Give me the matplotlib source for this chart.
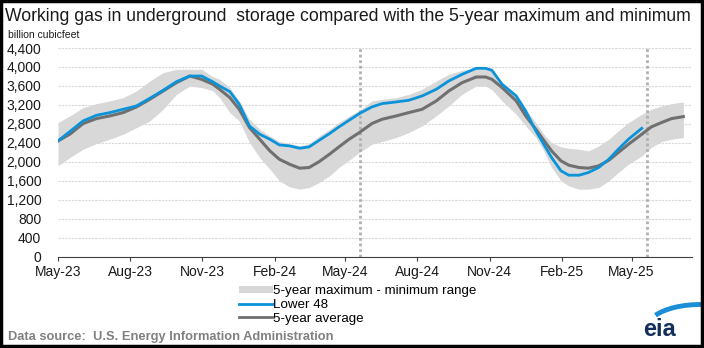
import matplotlib
matplotlib.use("Agg")
import matplotlib.pyplot as plt
import matplotlib.dates as mdates
from matplotlib.patches import Patch, Rectangle, Arc
from matplotlib.lines import Line2D
import pandas as pd

plt.rcParams['font.family'] = ['Liberation Sans', 'DejaVu Sans']

# values (billion cubic feet)
dates = ["2023-05-01", "2023-05-16", "2023-06-02", "2023-06-19", "2023-07-06", "2023-07-23",
         "2023-08-09", "2023-08-26", "2023-09-12", "2023-09-29", "2023-10-16", "2023-10-31",
         "2023-11-14", "2023-11-23", "2023-12-06", "2023-12-18", "2023-12-31", "2024-01-13",
         "2024-01-26", "2024-02-07", "2024-02-20", "2024-03-04", "2024-03-16", "2024-03-29",
         "2024-04-11", "2024-04-23", "2024-05-06", "2024-05-19", "2024-06-04", "2024-06-17",
         "2024-07-05", "2024-07-21", "2024-08-07", "2024-08-25", "2024-09-10", "2024-09-27",
         "2024-10-15", "2024-10-27", "2024-11-04", "2024-11-17", "2024-12-05", "2024-12-17",
         "2024-12-30", "2025-01-09", "2025-01-19", "2025-01-31", "2025-02-10", "2025-02-23",
         "2025-03-07", "2025-03-20", "2025-04-02", "2025-04-14", "2025-04-27", "2025-05-14",
         "2025-05-26", "2025-06-08", "2025-06-21", "2025-07-06"]

avg5 = [2441, 2582, 2807, 2912, 2968, 3038, 3158, 3319, 3494, 3670, 3810, 3740,
        3640, 3530, 3354, 3108, 2722, 2477, 2231, 2055, 1950, 1866, 1880, 2006,
        2161, 2315, 2477, 2617, 2807, 2898, 2968, 3038, 3108, 3284, 3494, 3670,
        3789, 3789, 3740, 3565, 3284, 2968, 2687, 2456, 2231, 2020, 1929, 1880,
        1866, 1915, 2034, 2196, 2371, 2582, 2736, 2828, 2912, 2954]

max5 = [2828, 2968, 3144, 3228, 3284, 3354, 3494, 3705, 3881, 3951, 3951, 3951,
        3800, 3740, 3565, 3284, 2898, 2687, 2547, 2428, 2385, 2336, 2385, 2547,
        2687, 2828, 2968, 3087, 3284, 3319, 3354, 3424, 3530, 3705, 3846, 3930,
        3972, 3972, 3950, 3670, 3424, 3108, 2828, 2582, 2406, 2315, 2287, 2266,
        2231, 2336, 2477, 2652, 2828, 3003, 3108, 3179, 3228, 3263]

min5 = [1915, 2090, 2266, 2385, 2477, 2582, 2722, 2863, 3108, 3424, 3600, 3565,
        3500, 3354, 3038, 2863, 2406, 2091, 1845, 1599, 1473, 1424, 1459, 1564,
        1705, 1880, 2034, 2196, 2371, 2427, 2512, 2617, 2757, 2968, 3179, 3424,
        3600, 3600, 3520, 3284, 3003, 2757, 2512, 2231, 1880, 1599, 1494, 1424,
        1424, 1459, 1599, 1775, 1950, 2126, 2301, 2427, 2477, 2512]

lower48 = [2441, 2638, 2863, 2982, 3038, 3108, 3179, 3340, 3509, 3691, 3810, 3810,
           3690, 3600, 3480, 3214, 2757, 2582, 2477, 2357, 2336, 2287, 2315, 2456,
           2596, 2736, 2877, 3017, 3158, 3228, 3263, 3298, 3389, 3530, 3705, 3846,
           3972, 3972, 3930, 3635, 3389, 3073, 2652, 2371, 2090, 1810, 1718, 1718,
           1775, 1880, 2055, 2266, 2477, 2708]

marker_dates = ["2024-05-20", "2025-05-20"]
x_ticks = ["2023-05-01", "2023-08-01", "2023-11-01", "2024-02-01", "2024-05-01",
           "2024-08-01", "2024-11-01", "2025-02-01", "2025-05-01"]
y_ticks = list(range(0, 4401, 400))

d = pd.to_datetime(dates)
d48 = d[:len(lower48)]

fig = plt.figure(figsize=(7.04, 3.48), dpi=100)
ax = fig.add_axes([0.0824, 0.2624, 0.9006, 0.5996])

ax.fill_between(d, min5, max5, color='#d8d8d8', lw=0, zorder=1)
ax.plot(d, avg5, color='#707070', lw=2.2, zorder=3)
ax.plot(d48, lower48, color='#0a93d8', lw=2.0, zorder=4)

for m in marker_dates:
    ax.axvline(pd.Timestamp(m), color='#b0b0b0', lw=2, ls=(0, (1, 1)), zorder=2)

ax.set_ylim(0, 4400)
ax.set_yticks(y_ticks)
ax.set_yticklabels([f"{v:,}" for v in y_ticks])
ax.set_xlim(pd.Timestamp("2023-05-01"), pd.Timestamp("2025-07-17"))
ax.set_xticks(pd.to_datetime(x_ticks))
ax.xaxis.set_major_formatter(mdates.DateFormatter("%b-%y"))
ax.grid(axis='y', color='#d8d8d8', lw=0.8, ls=(0, (2, 1)), zorder=0)
for s in ['top', 'right', 'left']:
    ax.spines[s].set_visible(False)
ax.spines['bottom'].set_color('#404040')
ax.tick_params(axis='y', length=0, pad=12, labelsize=10, labelcolor='#1a1a1a')
ax.tick_params(axis='x', length=3, color='#404040', pad=3, labelsize=10, labelcolor='#1a1a1a')

fig.text(0.007, 0.952, "Working gas in underground  storage compared with the 5-year maximum and minimum",
         fontsize=12.7, color='#1a1a1a', va='center')
fig.text(0.011, 0.9, "billion cubicfeet", fontsize=7.5, color='#1a1a1a', va='center')

handles = [Patch(facecolor='#d8d8d8', edgecolor='none'),
           Line2D([], [], color='#0a93d8', lw=2),
           Line2D([], [], color='#707070', lw=2)]
labels = ["5-year maximum - minimum range", "Lower 48", "5-year average"]
fig.legend(handles, labels, loc='upper left', bbox_to_anchor=(0.34, 0.18), frameon=False,
           fontsize=9.6, handlelength=2.5, handleheight=0.5, handletextpad=0.05,
           labelspacing=0.12, borderpad=0, borderaxespad=0)

fig.text(0.011, 0.032, "Data source:  U.S. Energy Information Administration", fontsize=9.3,
         fontweight='bold', color='#808080', va='center')

# eia logo
fig.text(0.937, 0.035, "eia", fontsize=17, fontweight='bold', color='#13305a',
         ha='center', va='baseline')
fig.add_artist(Arc((0.995, 0.06), 0.15, 0.13, theta1=88, theta2=152,
                   transform=fig.transFigure, color='#1a8fd6', lw=3.5))

fig.add_artist(Rectangle((0.002, 0.006), 0.995, 0.99, transform=fig.transFigure,
                         fill=False, edgecolor='black', lw=2.5))

fig.savefig("out.png", dpi=100)
